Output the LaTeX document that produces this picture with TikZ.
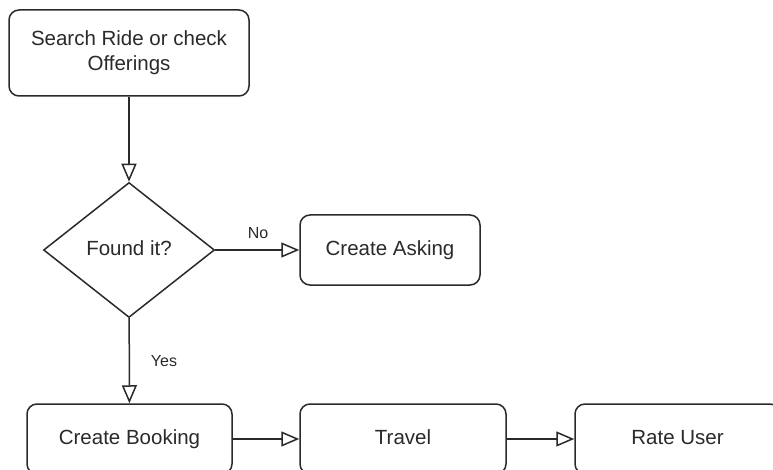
\documentclass[tikz,border=0pt]{standalone}
\usepackage{fontspec}
\setmainfont{Liberation Sans}
\usetikzlibrary{shapes.geometric,arrows.meta}
\definecolor{ink}{HTML}{2A2A2A}
\tikzset{
  every node/.style={text=ink, font=\fontsize{20.5}{25}\selectfont},
  procbox/.style={draw=ink, line width=1.5pt, rounded corners=10pt, fill=white,
    align=center, inner sep=0pt},
  oneline/.style={text height=15pt, text depth=4.5pt},
  decision/.style={draw=ink, line width=1.5pt, diamond, fill=white,
    inner sep=0pt, minimum width=171pt, minimum height=135pt,
    text height=15pt, text depth=4.5pt},
  flow/.style={draw=ink, line width=1.5pt,
    -{Triangle[open, length=18pt, width=15pt, line width=1.5pt]}},
  edgelabel/.style={font=\fontsize{16}{19}\selectfont, fill=white, inner sep=1pt}
}
\begin{document}
\begin{tikzpicture}[x=1pt, y=-1pt]
  \useasboundingbox[fill=white] (0,0) rectangle (773,470);

  \node[procbox, minimum width=240pt, minimum height=86pt] (search) at (129,53)
    {Search Ride or check\\Offerings};
  \node[decision] (found) at (129,250) {Found it?};
  \node[procbox, oneline, minimum width=180pt, minimum height=70pt] (asking) at (390,250)
    {Create Asking};
  \node[procbox, oneline, minimum width=205pt, minimum height=70pt] (booking) at (129.5,439)
    {Create Booking};
  \node[procbox, oneline, minimum width=206pt, minimum height=70pt] (travel) at (403,439)
    {Travel};
  \node[procbox, oneline, minimum width=205pt, minimum height=70pt] (rate) at (677.5,439)
    {Rate User};

  \draw[flow] (search) -- (found);
  \draw[flow] (found) -- (asking);
  \draw[flow] (found) -- (booking);
  \draw[flow] (booking) -- (travel);
  \draw[flow] (travel) -- (rate);

  \node[edgelabel] (nolabel) at (258,233) {No};
  \node[edgelabel] (yeslabel) at (164,361) {Yes};
\end{tikzpicture}
\end{document}
